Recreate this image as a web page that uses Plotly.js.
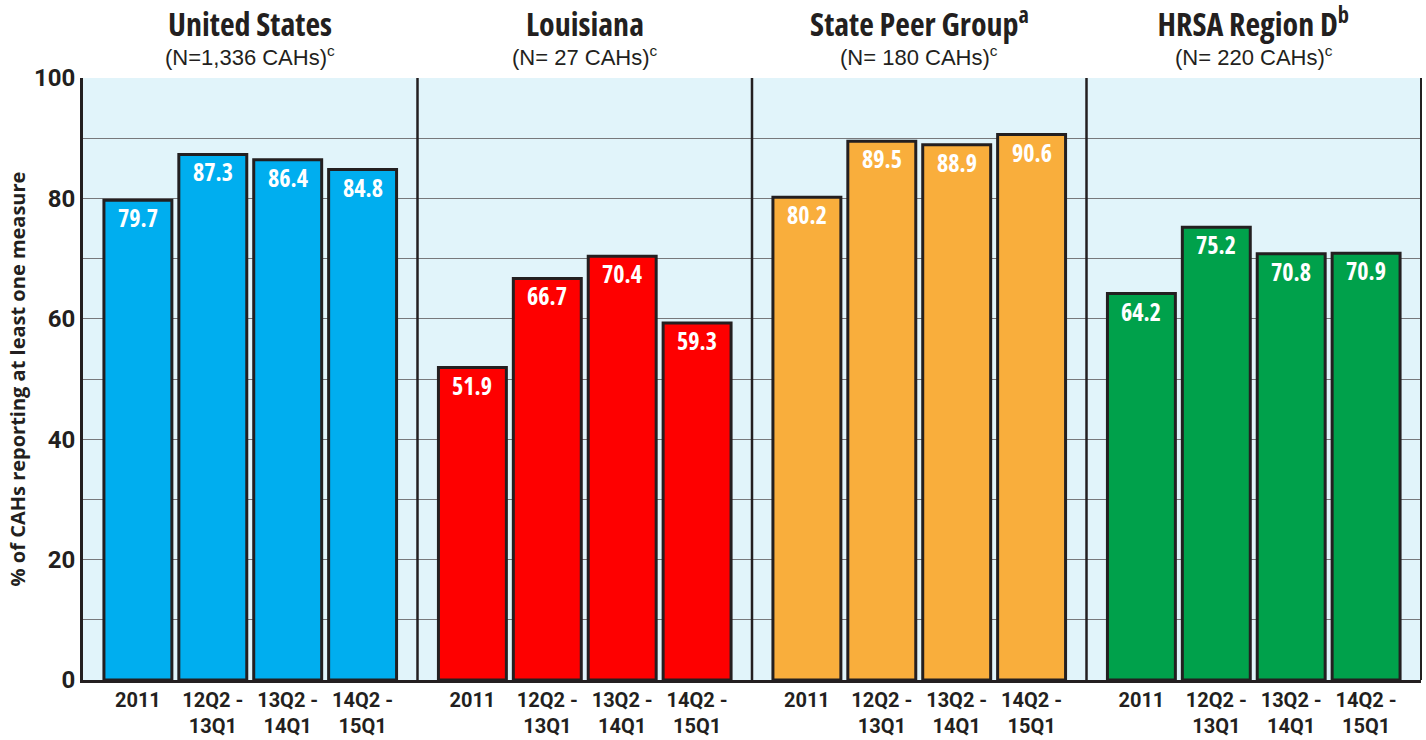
<!DOCTYPE html>
<html><head><meta charset="utf-8">
<script src="https://cdn.plot.ly/plotly-3.0.1.min.js"></script>
<style>html,body{margin:0;padding:0;background:#fff;}#chart{width:1426px;height:740px;}</style>
</head><body><div id="chart"></div>
<script>
const periods = ['2011', '12Q2 -<br>13Q1', '13Q2 -<br>14Q1', '14Q2 -<br>15Q1'];
const groups = ['United States', 'Louisiana', 'State Peer Group<sup>a</sup>', 'HRSA Region D<sup>b</sup>'];
const groupN = ['(N=1,336 CAHs)<sup>c</sup>', '(N= 27 CAHs)<sup>c</sup>', '(N= 180 CAHs)<sup>c</sup>', '(N= 220 CAHs)<sup>c</sup>'];
const usValues = [79.7, 87.3, 86.4, 84.8];
const laValues = [51.9, 66.7, 70.4, 59.3];
const peerValues = [80.2, 89.5, 88.9, 90.6];
const hrsaValues = [64.2, 75.2, 70.8, 70.9];
const yTitle = '% of CAHs reporting at least one measure';

const allValues = [usValues, laValues, peerValues, hrsaValues];
const colors = ['#00aeef', '#fe0000', '#f9ae3c', '#00a14b'];
const OPEN = '"Open Sans", "Liberation Sans", sans-serif';
const ROBOTO = 'Roboto, "Liberation Sans", sans-serif';
const PLAIN = '"Liberation Sans", Arial, sans-serif';
const INK = '#231f20';

const traces = [];
const annotations = [];
const layout = {
  width: 1426, height: 740,
  margin: {l: 83, r: 5, t: 78, b: 60},
  paper_bgcolor: '#ffffff',
  plot_bgcolor: '#e1f4fa',
  showlegend: false,
  bargap: 0.093,
  font: {family: OPEN, color: INK},
  yaxis: {
    range: [0, 100], dtick: 20, tick0: 0,
    showgrid: true, gridcolor: '#77787b', gridwidth: 1,
    minor: {dtick: 10, showgrid: true, gridcolor: '#77787b', gridwidth: 1},
    showline: true, linecolor: INK, linewidth: 3,
    ticks: '',
    zeroline: false,
    tickfont: {family: ROBOTO, size: 24, color: INK, weight: 'bold'},
    title: {text: '<b>' + yTitle + '</b>', font: {family: OPEN, size: 20, color: INK}, standoff: 3},
    fixedrange: true
  },
  shapes: [],
  annotations: annotations
};

const n = allValues.length;
for (let g = 0; g < n; g++) {
  const ax = g === 0 ? 'x' : 'x' + (g + 1);
  const axKey = g === 0 ? 'xaxis' : 'xaxis' + (g + 1);
  layout[axKey] = {
    domain: [g / n, (g + 1) / n],
    anchor: 'y',
    type: 'category',
    range: [-0.733, 3.733],
    showline: true, linecolor: INK, linewidth: 3,
    showgrid: false, zeroline: false,
    ticks: '',
    tickfont: {family: ROBOTO, size: 20, color: INK, weight: 'bold'},
    fixedrange: true
  };
  traces.push({
    type: 'bar',
    x: periods,
    y: allValues[g],
    xaxis: ax, yaxis: 'y',
    marker: {color: colors[g], line: {color: INK, width: 3}},
    hoverinfo: 'skip'
  });
  allValues[g].forEach((v, i) => {
    annotations.push({
      xref: ax, yref: 'y', x: i, y: v,
      text: '<b>' + v.toFixed(1) + '</b>',
      showarrow: false, xanchor: 'center', yanchor: 'top', yshift: 1,
      font: {family: OPEN, size: 24, color: '#ffffff'},
      name: 'val'
    });
  });
  const cx = (g + 0.5) / n;
  annotations.push({
    xref: 'paper', yref: 'paper', x: cx, y: 1, xanchor: 'center', yanchor: 'bottom', yshift: 31,
    text: '<b>' + groups[g] + '</b>', showarrow: false,
    font: {family: OPEN, size: 32, color: INK},
    name: 'title'
  });
  annotations.push({
    xref: 'paper', yref: 'paper', x: cx, y: 1, xanchor: 'center', yanchor: 'bottom', yshift: 6,
    text: groupN[g], showarrow: false,
    font: {family: PLAIN, size: 22, color: INK},
    name: 'sub'
  });
  if (g > 0) {
    layout.shapes.push({
      type: 'line', xref: 'paper', yref: 'paper', x0: g / n, x1: g / n, y0: 0, y1: 1,
      line: {color: INK, width: 2.5}
    });
  }
}
layout.shapes.push({
  type: 'line', xref: 'paper', yref: 'paper', x0: 1, x1: 1, y0: 0, y1: 1,
  line: {color: INK, width: 2}
});

function condense() {
  const root = document.getElementById('chart');
  root.querySelectorAll('.annotation').forEach((a, k) => {
    const spec = annotations[k];
    const t = a.querySelector('text');
    if (!t || !spec) return;
    if (spec.name === 'val' || spec.name === 'title') t.style.fontStretch = '75%';
  });
}

Plotly.newPlot('chart', traces, layout, {displayModeBar: false, staticPlot: true}).then(condense);
</script></body></html>
